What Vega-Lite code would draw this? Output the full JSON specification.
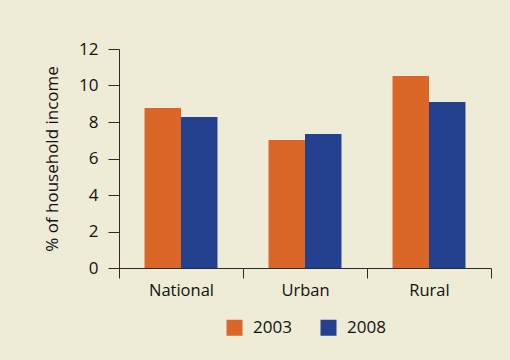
{
  "$schema": "https://vega.github.io/schema/vega-lite/v6.json",
  "width": 372,
  "height": 219,
  "autosize": {"type": "none"},
  "padding": {"left": 119, "top": 49, "right": 19, "bottom": 92},
  "background": "#EEEBD6",
  "config": {
    "view": {"stroke": null},
    "font": "Open Sans",
    "axis": {"domainColor": "#2b2b2b", "tickColor": "#2b2b2b", "labelColor": "#111111", "titleColor": "#111111", "labelFont": "Open Sans", "titleFont": "Open Sans", "grid": false}
  },
  "data": {
    "values": [
      {"region": "National", "year": "2003", "value": 8.77},
      {"region": "National", "year": "2008", "value": 8.27},
      {"region": "Urban", "year": "2003", "value": 7.01},
      {"region": "Urban", "year": "2008", "value": 7.34},
      {"region": "Rural", "year": "2003", "value": 10.52},
      {"region": "Rural", "year": "2008", "value": 9.1}
    ]
  },
  "mark": {"type": "bar"},
  "encoding": {
    "x": {
      "field": "region",
      "type": "nominal",
      "sort": ["National", "Urban", "Rural"],
      "scale": {"paddingInner": 0, "paddingOuter": 0},
      "axis": {"title": null, "labelAngle": 0, "tickBand": "extent", "tickSize": 10, "labelFontSize": 16.5, "labelPadding": 4, "labelFontWeight": "normal"}
    },
    "xOffset": {
      "field": "year",
      "type": "nominal",
      "scale": {"paddingInner": 0, "paddingOuter": 0.7}
    },
    "y": {
      "field": "value",
      "type": "quantitative",
      "scale": {"domain": [0, 12]},
      "axis": {"title": "% of household income", "values": [0, 2, 4, 6, 8, 10, 12], "tickSize": 11, "labelFontSize": 17, "labelPadding": 10, "titleFontSize": 17, "titleFontWeight": "normal", "titlePadding": 17}
    },
    "color": {
      "field": "year",
      "type": "nominal",
      "scale": {"domain": ["2003", "2008"], "range": ["#DA6727", "#24418F"]},
      "legend": {"title": null, "orient": "none", "direction": "horizontal", "legendX": 107, "legendY": 270, "symbolType": "square", "symbolSize": 256, "symbolStrokeWidth": 0, "symbolOpacity": 1, "labelFontSize": 17, "labelOffset": 10, "columnPadding": 28, "labelColor": "#111111"}
    }
  }
}
